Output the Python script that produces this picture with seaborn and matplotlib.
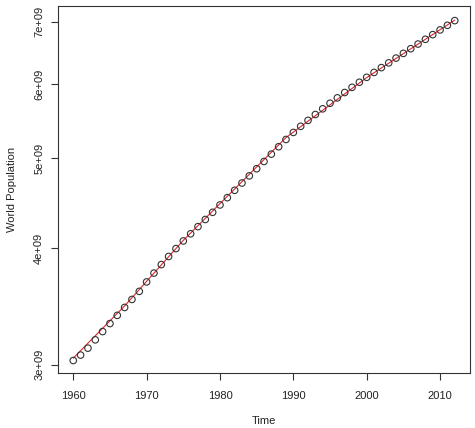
import pandas as pd
import matplotlib
matplotlib.use("Agg")
import matplotlib.pyplot as plt
import seaborn as sns
from matplotlib.ticker import FixedLocator, NullLocator

# World population, one value per year
years = list(range(1960, 2013))
population = [
    3.032e9, 3.073e9, 3.126e9, 3.191e9, 3.257e9, 3.322e9, 3.390e9, 3.457e9,
    3.526e9, 3.597e9, 3.682e9, 3.763e9, 3.843e9, 3.921e9, 3.998e9, 4.074e9,
    4.147e9, 4.221e9, 4.296e9, 4.373e9, 4.453e9, 4.534e9, 4.617e9, 4.701e9,
    4.785e9, 4.870e9, 4.958e9, 5.049e9, 5.142e9, 5.235e9, 5.327e9, 5.408e9,
    5.488e9, 5.568e9, 5.647e9, 5.725e9, 5.802e9, 5.879e9, 5.955e9, 6.030e9,
    6.104e9, 6.178e9, 6.252e9, 6.326e9, 6.401e9, 6.476e9, 6.551e9, 6.627e9,
    6.705e9, 6.783e9, 6.862e9, 6.941e9, 7.022e9,
]

# fitted (segmented) trend
fit_years = [1960, 1967, 1975, 1989, 2000, 2012]
fit_values = [3.05e9, 3.47e9, 4.08e9, 5.26e9, 6.10e9, 7.03e9]

y_ticks = [3e9, 4e9, 5e9, 6e9, 7e9]
y_tick_labels = ["3e+09", "4e+09", "5e+09", "6e+09", "7e+09"]
x_ticks = [1960, 1970, 1980, 1990, 2000, 2010]

df = pd.DataFrame({"year": years, "pop": population})
fit = pd.DataFrame({"year": fit_years, "pop": fit_values})

sns.set_style("white")
plt.rcParams["font.family"] = ["Liberation Sans", "DejaVu Sans"]

fig = plt.figure(figsize=(4.75, 4.28), dpi=100)
ax = fig.add_axes([58 / 475, 1 - 373 / 428, 412 / 475, 367 / 428])

sns.lineplot(x="year", y="pop", data=fit, ax=ax, color="#e0242a",
             linewidth=0.8)
sns.scatterplot(x="year", y="pop", data=df, ax=ax, marker="o",
                facecolor="none", edgecolor="#333333", linewidth=0.8, s=22,
                zorder=3)

ax.set_yscale("log")
ax.set_xlim(1957.92, 2014.08)
ax.set_ylim(2.94e9, 7.28e9)
ax.yaxis.set_major_locator(FixedLocator(y_ticks))
ax.yaxis.set_minor_locator(NullLocator())
ax.set_yticklabels(y_tick_labels, rotation=90, va="center")
ax.set_xticks(x_ticks)

for s in ax.spines.values():
    s.set_color("#333333")
    s.set_linewidth(0.8)
ax.tick_params(axis="both", direction="out", length=5, width=0.8,
               color="#333333", labelsize=8, labelcolor="#222222",
               left=True, bottom=True)
ax.tick_params(axis="x", pad=8)
ax.tick_params(axis="y", pad=5)

ax.set_xlabel("Time", fontsize=8, color="#222222")
ax.set_ylabel("World Population", fontsize=8, color="#222222")
ax.xaxis.set_label_coords(0.5, -0.118)
ax.yaxis.set_label_coords(-0.1, 0.5)

fig.savefig("out.png", dpi=100, facecolor="white")
